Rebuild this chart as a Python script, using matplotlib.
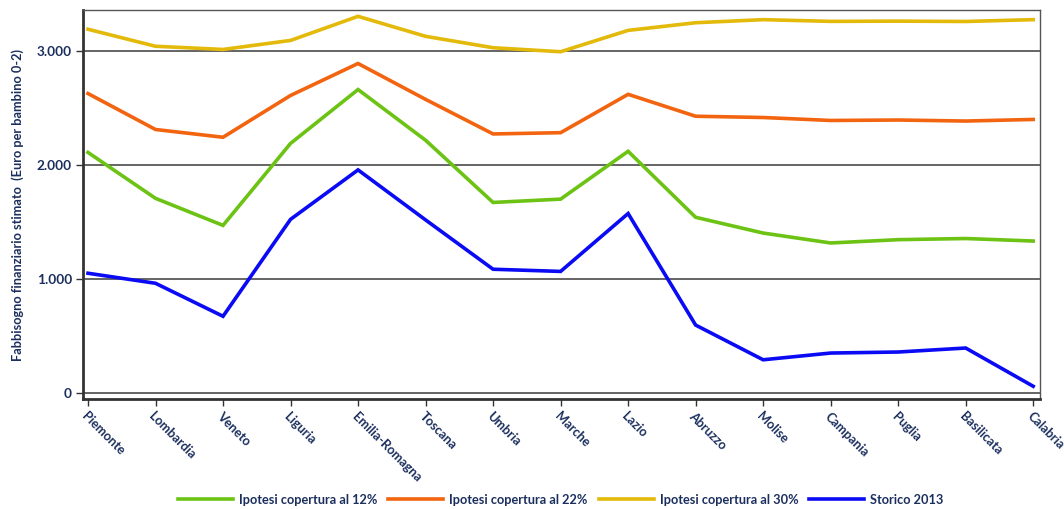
import matplotlib
matplotlib.use("Agg")
import matplotlib.pyplot as plt
from matplotlib.ticker import FuncFormatter

regioni = ["Piemonte", "Lombardia", "Veneto", "Liguria", "Emilia-Romagna", "Toscana",
           "Umbria", "Marche", "Lazio", "Abruzzo", "Molise", "Campania", "Puglia",
           "Basilicata", "Calabria"]
cop12 = [2108, 1706, 1469, 2187, 2659, 2215, 1670, 1699, 2118, 1540, 1402, 1315, 1344, 1354, 1332]
cop22 = [2624, 2309, 2241, 2607, 2887, 2573, 2270, 2281, 2617, 2425, 2414, 2388, 2392, 2383, 2397]
cop30 = [3187, 3038, 3010, 3089, 3300, 3125, 3025, 2990, 3177, 3244, 3271, 3256, 3258, 3255, 3271]
storico = [1050, 962, 673, 1522, 1955, 1517, 1085, 1066, 1573, 596, 292, 351, 360, 395, 60]
serie_labels = ["Ipotesi copertura al 12%", "Ipotesi copertura al 22%",
                "Ipotesi copertura al 30%", "Storico 2013"]
yticks = [0, 1000, 2000, 3000]

plt.rcParams['font.family'] = ['Lato', 'DejaVu Sans']

txt = "#1b2f5e"
colors = ["#6cc314", "#f2640f", "#e3b90a", "#0a0af5"]

fig = plt.figure(figsize=(10.64, 5.09), dpi=100)
ax = fig.add_axes([0.078, 0.216, 0.8994, 0.764])

x = list(range(len(regioni)))
for vals, c, lab in zip([cop12, cop22, cop30, storico], colors, serie_labels):
    ax.plot(x, vals, color=c, lw=2.6, label=lab, solid_joinstyle="miter", zorder=3)

ax.set_xlim(-0.074, 14.1)
ax.set_ylim(-52, 3354)
ax.set_yticks(yticks)
ax.yaxis.set_major_formatter(FuncFormatter(lambda v, p: "0" if v == 0 else f"{int(v):,}".replace(",", ".")))
ax.grid(axis="y", color="#3a3a3a", lw=1.1, zorder=1)
ax.set_axisbelow(True)

ax.set_xticks(x)
ax.set_xticklabels(regioni, rotation=-45, ha="left", va="top", rotation_mode="anchor",
                   fontsize=9.2, fontweight="bold", color=txt)
for lab in ax.get_yticklabels():
    lab.set_fontsize(9.8)
    lab.set_fontweight("bold")
    lab.set_color(txt)
ax.tick_params(axis="x", length=5, width=1, color="#333333", pad=3)
ax.tick_params(axis="y", length=5, width=1, color="#333333", pad=3)

for s in ["left", "bottom"]:
    ax.spines[s].set_linewidth(2)
    ax.spines[s].set_color("#333333")
for s in ["top", "right"]:
    ax.spines[s].set_linewidth(1)
    ax.spines[s].set_color("#555555")

ax.set_ylabel("Fabbisogno finanziario stimato  (Euro per bambino 0-2)", fontsize=9.2,
              fontweight="bold", color=txt, labelpad=9)

leg = fig.legend(loc="center", bbox_to_anchor=(0.527, 0.018), ncol=4, frameon=False,
                 prop={"size": 9.2, "weight": "bold"},
                 handlelength=4.3, columnspacing=0.86, handletextpad=0.47)
for t in leg.get_texts():
    t.set_color(txt)

fig.savefig("out.png", dpi=100)
